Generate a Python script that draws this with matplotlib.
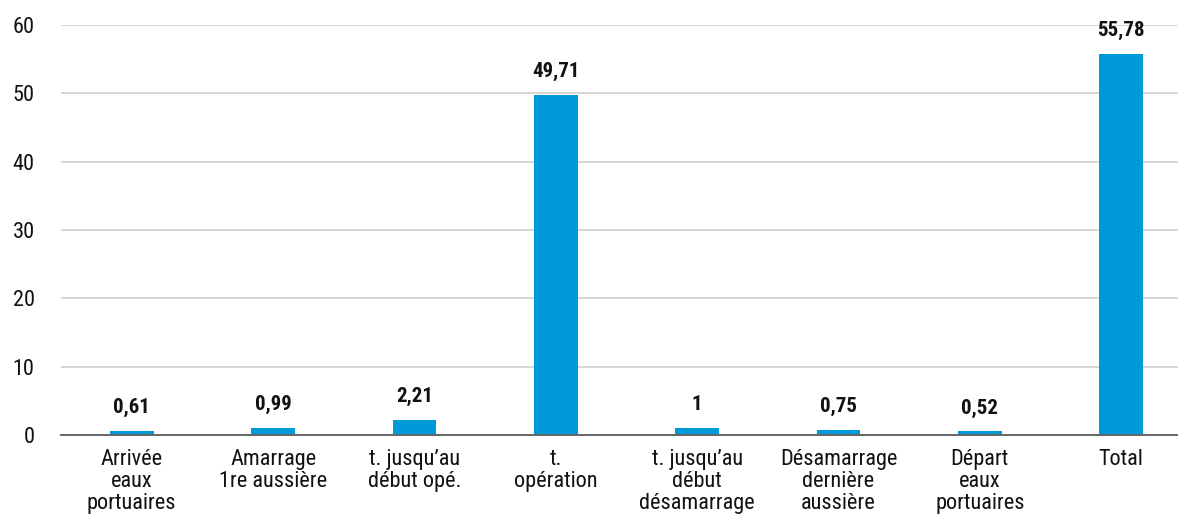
import matplotlib
matplotlib.use("Agg")
import matplotlib.pyplot as plt
from matplotlib import font_manager

# Durées moyennes par étape d'escale (heures)
categories = [
    "Arrivée\neaux\nportuaires",
    "Amarrage\n1re aussière",
    "t. jusqu’au\ndébut opé.",
    "t.\nopération",
    "t. jusqu’au\ndébut\ndésamarrage",
    "Désamarrage\ndernière\naussière",
    "Départ\neaux\nportuaires",
    "Total",
]
values = [0.61, 0.99, 2.21, 49.71, 1.0, 0.75, 0.52, 55.78]
value_labels = ["0,61", "0,99", "2,21", "49,71", "1", "0,75", "0,52", "55,78"]
yticks = [0, 10, 20, 30, 40, 50, 60]

# police condensée si disponible
names = {f.name for f in font_manager.fontManager.ttflist}
family = "DejaVu Sans"
for cand in ["Roboto Condensed", "Archivo Narrow", "PT Sans Narrow",
             "Liberation Sans Narrow", "Open Sans Condensed", "Fira Sans Condensed"]:
    if cand in names:
        family = cand
        break
plt.rcParams["font.family"] = [family, "DejaVu Sans"]

bar_color = "#0099D8"

fig = plt.figure(figsize=(11.78, 5.21), dpi=100)
ax = fig.add_axes([0.0518, 0.165, 0.960, 0.787])

x = range(len(categories))
ax.bar(x, values, width=0.31, color=bar_color, zorder=3)

for xi, v, lab in zip(x, values, value_labels):
    ax.annotate(lab, (xi, v), xytext=(0, 10), textcoords="offset points",
                ha="center", va="bottom", fontsize=15, fontweight="semibold",
                color="#111111")

ax.set_xlim(-0.5, len(categories) - 0.5)
ax.set_ylim(0, 60)
ax.set_yticks(yticks)
ax.set_yticklabels([str(t) for t in yticks], fontsize=16)
ax.set_xticks(list(x))
ax.set_xticklabels(categories, fontsize=16, linespacing=1.06)
ax.tick_params(axis="both", length=0, colors="#111111")
ax.tick_params(axis="y", pad=19)
ax.tick_params(axis="x", pad=10)

ax.grid(axis="y", color="#D0D0D0", linewidth=1.2, zorder=0)
for side in ["top", "right", "left"]:
    ax.spines[side].set_visible(False)
ax.spines["bottom"].set_color("#666666")
ax.spines["bottom"].set_linewidth(1.4)
ax.spines["bottom"].set_zorder(4)

fig.savefig("out.png", dpi=100)
